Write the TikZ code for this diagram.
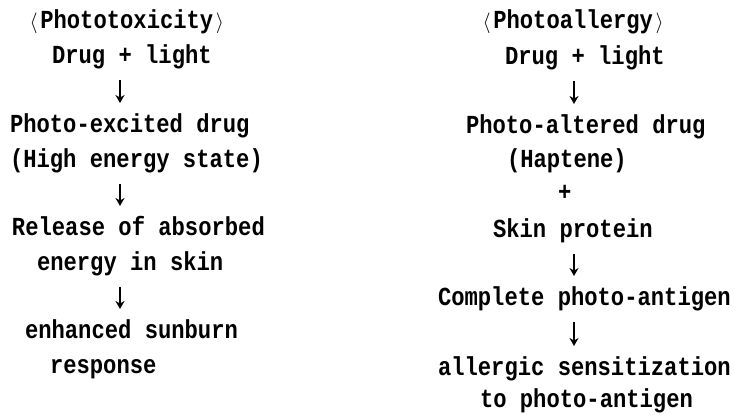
\documentclass[tikz,border=0pt]{standalone}
\usepackage{fontspec}
\newfontfamily\flowfont{Liberation Mono}[FakeStretch=0.853]
\usetikzlibrary{arrows.meta}
\newcommand{\angl}{\makebox[13.3pt]{\fontsize{21}{21}\selectfont$\langle$}}
\newcommand{\angr}{\makebox[13.3pt]{\fontsize{21}{21}\selectfont$\rangle$}}
\tikzset{
  txt/.style  = {
    anchor=base west, inner sep=0pt, outer sep=0pt,
    text height=16pt, text depth=5pt,
    font=\flowfont\bfseries\fontsize{26}{26}\selectfont
  },
  flow/.style = {-{Stealth[length=8pt,width=9pt]},
                 line width=1.8pt, shorten <=12pt, shorten >=13pt}
}

\begin{document}
\begin{tikzpicture}[x=1pt, y=-1pt]
  \useasboundingbox (0,0) rectangle (734,415);
  \coordinate (lx) at (120,0);
  \coordinate (rx) at (574,0);

  %% Phototoxicity column
  \node[txt] (tttl)  at (27,28)  {\angl Phototoxicity\angr};
  \node[txt] (tdrug) at (52,63)  {Drug + light};
  \node[txt] (texc)  at (10,132) {Photo-excited drug};
  \node[txt] (thigh) at (10,167) {(High energy state)};
  \node[txt] (trel)  at (12,235) {Release of absorbed};
  \node[txt] (tene)  at (37,270) {energy in skin};
  \node[txt] (tenh)  at (25,338) {enhanced sunburn};
  \node[txt] (tresp) at (50,373) {response};

  \draw[flow] (tdrug.south -| lx) -- (texc.north -| lx);
  \draw[flow] (thigh.south -| lx) -- (trel.north -| lx);
  \draw[flow] (tene.south -| lx)  -- (tenh.north -| lx);

  %% Photoallergy column
  \node[txt] (attl)  at (480,28)  {\angl Photoallergy\angr};
  \node[txt] (adrug) at (505,64)  {Drug + light};
  \node[txt] (aalt)  at (466,133) {Photo-altered drug};
  \node[txt] (ahap)  at (507,167) {(Haptene)};
  \node[txt] (aplus) at (558,200) {+};
  \node[txt] (askin) at (493,237) {Skin protein};
  \node[txt] (acomp) at (438,305) {Complete photo-antigen};
  \node[txt] (aall)  at (438,375) {allergic sensitization};
  \node[txt] (ato)   at (480,407) {to photo-antigen};

  \draw[flow] (adrug.south -| rx) -- (aalt.north -| rx);
  \draw[flow] (askin.south -| rx) -- (acomp.north -| rx);
  \draw[flow] (acomp.south -| rx) -- (aall.north -| rx);
\end{tikzpicture}
\end{document}
